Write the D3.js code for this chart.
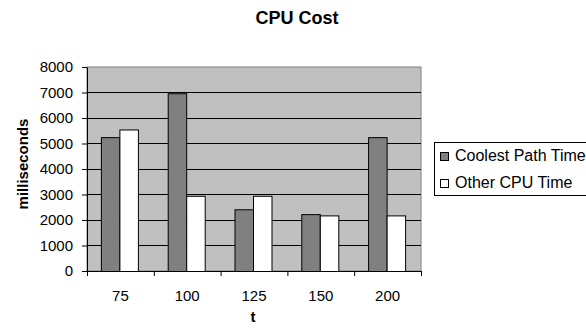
<!DOCTYPE html>
<html><head><meta charset="utf-8">
<script src="https://cdn.jsdelivr.net/npm/d3@7"></script>
<style>body{margin:0;background:#fff;}svg{display:block;font-family:"Liberation Sans",Arial,sans-serif;}</style>
</head><body>
<script>
const categories = ["75","100","125","150","200"];
const seriesNames = ["Coolest Path Time","Other CPU Time"];
const coolest = [5250, 6970, 2420, 2230, 5250];
const other = [5550, 2950, 2950, 2180, 2180];
const yTicks = [0,1000,2000,3000,4000,5000,6000,7000,8000];

const W=586,H=335;
const m={l:87,r:421,t:67,b:271};
const svg=d3.select("body").append("svg").attr("width",W).attr("height",H);

const x=d3.scaleBand().domain(categories).range([m.l,m.r]);
const y=d3.scaleLinear().domain([0,8000]).range([m.b,m.t]);
const xs=d3.scaleBand().domain(seriesNames).range([0,37]);
const colors=["#808080","#ffffff"];

svg.append("rect").attr("x",m.l).attr("y",m.t).attr("width",m.r-m.l).attr("height",m.b-m.t).attr("fill","#c0c0c0").attr("stroke","#808080");

svg.append("g").selectAll("line").data(yTicks.slice(1,-1)).join("line")
 .attr("x1",m.l).attr("x2",m.r).attr("y1",d=>y(d)).attr("y2",d=>y(d)).attr("stroke","#000").attr("stroke-width",1).attr("shape-rendering","crispEdges");

const data=[coolest,other];
data.forEach((vals,si)=>{
  svg.append("g").selectAll("rect").data(vals).join("rect")
   .attr("x",(d,i)=>x(categories[i])+x.bandwidth()/2-19.5+xs(seriesNames[si])+0.5)
   .attr("y",d=>y(d)+0.5)
   .attr("width",xs.bandwidth())
   .attr("height",d=>m.b-y(d))
   .attr("fill",colors[si]).attr("stroke","#000").attr("stroke-width",1);
});

// axes
const ya=d3.axisLeft(y).tickValues(yTicks).tickFormat(d3.format("d")).tickSize(5).tickPadding(9).tickSizeOuter(0);
const yg=svg.append("g").attr("transform",`translate(${m.l},0)`).call(ya);
yg.selectAll("text").attr("font-size",15).attr("fill","#000").attr("font-family","Liberation Sans, Arial");
yg.select(".domain").attr("stroke","#000");
yg.selectAll(".tick line").attr("stroke","#000");

const xa=d3.axisBottom(x).tickSize(0).tickSizeOuter(0);
const xg=svg.append("g").attr("transform",`translate(0,${m.b})`).call(xa);
xg.selectAll("text").attr("font-size",15).attr("fill","#000").attr("font-family","Liberation Sans, Arial").attr("y",30).attr("dy","0");
xg.select(".domain").attr("stroke","#000");
// category boundary ticks
svg.append("g").selectAll("line").data(categories.concat(["end"])).join("line")
 .attr("x1",(d,i)=>m.l+i*x.step()+0.5).attr("x2",(d,i)=>m.l+i*x.step()+0.5)
 .attr("y1",m.b).attr("y2",m.b+5).attr("stroke","#000");

// titles
svg.append("text").attr("x",297).attr("y",24).attr("text-anchor","middle").attr("font-size",18).attr("font-weight","bold").text("CPU Cost");
svg.append("text").attr("transform","translate(28,164) rotate(-90)").attr("text-anchor","middle").attr("font-size",15).attr("font-weight","bold").text("milliseconds");
svg.append("text").attr("x",253).attr("y",322).attr("text-anchor","middle").attr("font-size",15).attr("font-weight","bold").text("t");

// legend
const lg=svg.append("g");
lg.append("rect").attr("x",434.5).attr("y",142.5).attr("width",160).attr("height",53).attr("fill","#fff").attr("stroke","#000");
seriesNames.forEach((n,i)=>{
  const yy=[161,188][i];
  lg.append("rect").attr("x",440.5).attr("y",yy-8.5).attr("width",8).attr("height",8).attr("fill",colors[i]).attr("stroke","#000");
  lg.append("text").attr("x",455).attr("y",yy).attr("font-size",16).text(n);
});
</script>
</body></html>
